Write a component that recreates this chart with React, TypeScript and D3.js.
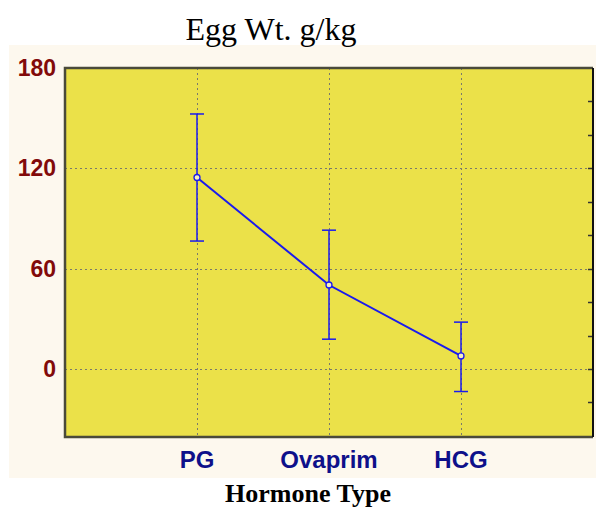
import React, { useEffect, useRef } from 'react';
import * as d3 from 'd3';

const hormones = ['PG', 'Ovaprim', 'HCG'];
const eggWtMeans = [114.5, 50.2, 7.8];
const eggWtUpper = [152.5, 83, 28];
const eggWtLower = [76.5, 17.8, -13.5];
const yTicks = [0, 60, 120, 180];
const rightTicks = [-20, 0, 20, 40, 60, 80, 100, 120, 140, 160];

const App = () => {
  const svgRef = useRef<SVGSVGElement>(null);

  useEffect(() => {
    const svg = d3.select(svgRef.current);
    svg.selectAll('*').remove();

    const width = 596;
    const height = 507;
    const left = 65, right = 593, top = 68, bottom = 437;

    svg.attr('width', width).attr('height', height);

    // cream panel behind everything
    svg.append('rect')
      .attr('x', 9).attr('y', 45)
      .attr('width', width - 9).attr('height', 433)
      .attr('fill', '#fdf8ee');

    const x = d3.scaleLinear().domain([0, 4]).range([left, right]);
    const y = d3.scaleLinear().domain([-40.7, 180]).range([bottom, top]);

    svg.append('rect')
      .attr('x', left).attr('y', top)
      .attr('width', right - left).attr('height', bottom - top)
      .attr('fill', '#ebe149');

    // grid
    const grid = svg.append('g')
      .attr('stroke', '#7a7a6a')
      .attr('stroke-width', 1)
      .attr('stroke-dasharray', '2,3');
    yTicks.filter(t => t < 180).forEach(t => {
      grid.append('line')
        .attr('x1', left).attr('x2', right)
        .attr('y1', Math.round(y(t)) + 0.5).attr('y2', Math.round(y(t)) + 0.5);
    });
    hormones.forEach((h, i) => {
      grid.append('line')
        .attr('x1', Math.round(x(i + 1)) + 0.5).attr('x2', Math.round(x(i + 1)) + 0.5)
        .attr('y1', top).attr('y2', bottom);
    });

    // right side ticks
    svg.append('g')
      .selectAll('line')
      .data(rightTicks)
      .join('line')
      .attr('x1', right - 5).attr('x2', right)
      .attr('y1', d => Math.round(y(d)) + 0.5).attr('y2', d => Math.round(y(d)) + 0.5)
      .attr('stroke', '#333')
      .attr('stroke-width', 1.5);

    // frame
    svg.append('path')
      .attr('d', `M${right},${top}H${left}V${bottom}H${right}`)
      .attr('fill', 'none')
      .attr('stroke', '#4a4a3a')
      .attr('stroke-width', 2.5);
    svg.append('line')
      .attr('x1', right).attr('x2', right)
      .attr('y1', top).attr('y2', bottom)
      .attr('stroke', '#111')
      .attr('stroke-width', 2);

    // y labels
    svg.append('g')
      .selectAll('text')
      .data(yTicks)
      .join('text')
      .attr('x', 56)
      .attr('y', d => y(d) + 8)
      .attr('text-anchor', 'end')
      .attr('font-family', 'Liberation Sans, Arial, sans-serif')
      .attr('font-weight', 'bold')
      .attr('font-size', 23)
      .attr('fill', '#820a0a')
      .text(d => d);

    // x labels
    svg.append('g')
      .selectAll('text')
      .data(hormones)
      .join('text')
      .attr('x', (d, i) => x(i + 1))
      .attr('y', 468)
      .attr('text-anchor', 'middle')
      .attr('font-family', 'Liberation Sans, Arial, sans-serif')
      .attr('font-weight', 'bold')
      .attr('font-size', 24)
      .attr('fill', '#0e108a')
      .text(d => d);

    const blue = '#1a1aee';

    // error bars
    const eb = svg.append('g').attr('stroke', blue).attr('stroke-width', 1.5);
    hormones.forEach((h, i) => {
      const cx = x(i + 1);
      eb.append('line')
        .attr('x1', cx).attr('x2', cx)
        .attr('y1', y(eggWtUpper[i])).attr('y2', y(eggWtLower[i]));
      [eggWtUpper[i], eggWtLower[i]].forEach(v => {
        eb.append('line')
          .attr('x1', cx - 7).attr('x2', cx + 7)
          .attr('y1', y(v)).attr('y2', y(v));
      });
    });

    const line = d3.line<number>()
      .x((d, i) => x(i + 1))
      .y(d => y(d));

    svg.append('path')
      .datum(eggWtMeans)
      .attr('d', line)
      .attr('fill', 'none')
      .attr('stroke', blue)
      .attr('stroke-width', 2);

    svg.append('g')
      .selectAll('circle')
      .data(eggWtMeans)
      .join('circle')
      .attr('cx', (d, i) => x(i + 1))
      .attr('cy', d => y(d))
      .attr('r', 3)
      .attr('fill', '#f4f0c0')
      .attr('stroke', blue)
      .attr('stroke-width', 1.3);

    svg.append('text')
      .attr('x', 271)
      .attr('y', 40)
      .attr('text-anchor', 'middle')
      .attr('font-family', 'Liberation Serif, Times New Roman, serif')
      .attr('font-size', 32)
      .attr('fill', '#000')
      .text('Egg Wt. g/kg');

    svg.append('text')
      .attr('x', 308)
      .attr('y', 502)
      .attr('text-anchor', 'middle')
      .attr('font-family', 'Liberation Serif, Times New Roman, serif')
      .attr('font-weight', 'bold')
      .attr('font-size', 26)
      .attr('fill', '#000')
      .text('Hormone Type');
  }, []);

  return (
    <div style={{ position: 'absolute', left: 0, top: 0, background: '#fff' }}>
      <svg ref={svgRef}></svg>
    </div>
  );
};

export default App;
